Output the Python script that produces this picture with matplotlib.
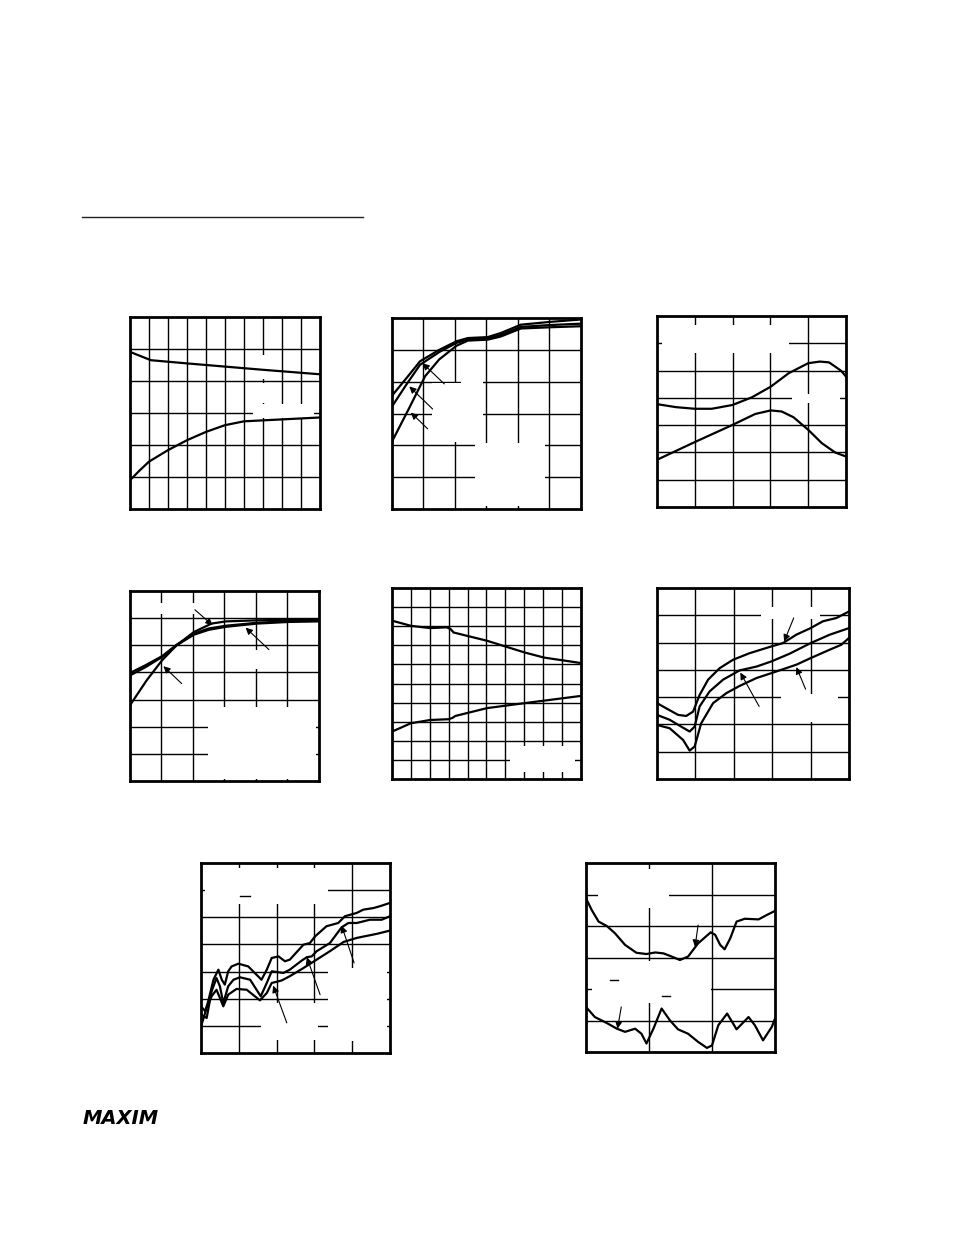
import numpy as np
import matplotlib
matplotlib.use("Agg")
import matplotlib.pyplot as plt
from matplotlib.patches import Rectangle

# ---- curve data (axis units = grid divisions) ----
# plot 1
p1_up_x = [0, 1.1, 3, 5, 7, 10]
p1_up_y = [4.91, 4.65, 4.55, 4.45, 4.35, 4.21]
p1_lo_x = [0, 0.5, 1, 2, 3, 4, 5, 6, 8, 10]
p1_lo_y = [0.9, 1.2, 1.48, 1.84, 2.15, 2.41, 2.62, 2.74, 2.8, 2.86]

# plot 2
p2_a_x = [0, 0.45, 0.89, 1.5, 2.05, 2.41, 3.04, 3.46, 4.09, 5.04, 5.96]
p2_a_y = [3.56, 4.1, 4.64, 5.0, 5.27, 5.37, 5.40, 5.53, 5.79, 5.88, 5.95]
p2_b_x = [0, 0.45, 0.89, 1.5, 2.05, 2.41, 3.04, 3.46, 4.09, 5.04, 5.96]
p2_b_y = [3.22, 3.9, 4.53, 4.93, 5.22, 5.32, 5.35, 5.47, 5.72, 5.78, 5.82]
p2_c_x = [0, 0.52, 1.05, 1.5, 2.05, 2.41, 3.04, 3.46, 4.09, 5.04, 5.96]
p2_c_y = [2.12, 3.12, 4.17, 4.7, 5.13, 5.29, 5.32, 5.42, 5.67, 5.71, 5.74]
p2_arrows = [((1.66, 3.93), (0.97, 4.58)), ((1.29, 3.14), (0.55, 3.85)),
             ((1.13, 2.52), (0.6, 3.03))]

# plot 3
p3_up_x = [0, 0.5, 1, 1.45, 2, 2.51, 3.01, 3.48, 4.0, 4.31, 4.55, 4.71, 4.88, 5]
p3_up_y = [3.77, 3.66, 3.6, 3.6, 3.74, 4.02, 4.41, 4.9, 5.27, 5.33, 5.3, 5.15, 4.98, 4.78]
p3_lo_x = [0, 1, 2, 2.6, 3.01, 3.3, 3.61, 4.0, 4.36, 4.71, 5]
p3_lo_y = [1.73, 2.38, 3.01, 3.41, 3.54, 3.5, 3.29, 2.83, 2.34, 2.0, 1.85]

# plot 4
p4_a_x = [0, 0.53, 1.02, 1.48, 2.03, 2.59, 3.04, 4.04, 6]
p4_a_y = [2.79, 3.71, 4.45, 5.0, 5.49, 5.8, 5.88, 5.92, 5.96]
p4_b_x = [0, 0.5, 1.02, 1.48, 2.03, 2.5, 3.04, 4.04, 5.04, 6]
p4_b_y = [3.89, 4.2, 4.57, 5.0, 5.39, 5.57, 5.68, 5.8, 5.86, 5.88]
p4_c_x = [0, 0.5, 1.02, 1.48, 2.03, 2.5, 3.04, 4.04, 5.04, 6]
p4_c_y = [3.98, 4.27, 4.6, 5.02, 5.43, 5.62, 5.72, 5.83, 5.89, 5.92]
p4_arrows = [((2.06, 6.31), (2.62, 5.74)), ((4.41, 4.84), (3.67, 5.65)),
             ((1.64, 3.59), (1.06, 4.23))]

# plot 5
p5_up_x = [0, 1, 2.02, 2.9, 3.1, 3.26, 5.02, 7.0, 8.03, 10]
p5_up_y = [8.29, 8.02, 7.9, 7.94, 7.85, 7.67, 7.24, 6.63, 6.36, 6.07]
p5_lo_x = [0, 1, 2.02, 2.99, 3.2, 3.35, 5.02, 7.0, 10]
p5_lo_y = [2.48, 2.92, 3.09, 3.13, 3.2, 3.3, 3.71, 3.97, 4.35]

# plot 6
p6_a_x = [0, 0.24, 0.55, 0.76, 0.94, 1.11, 1.33, 1.63, 1.98, 2.41, 2.98, 3.28, 3.63, 4.0, 4.32, 4.67, 5]
p6_a_y = [2.78, 2.59, 2.35, 2.31, 2.47, 3.08, 3.64, 4.06, 4.37, 4.61, 4.86, 4.98, 5.29, 5.53, 5.78, 5.9, 6.14]
p6_b_x = [0, 0.33, 0.63, 0.85, 0.98, 1.11, 1.37, 1.72, 2.15, 2.59, 2.98, 3.45, 4.0, 4.5, 5]
p6_b_y = [2.35, 2.17, 1.92, 1.74, 1.92, 2.66, 3.21, 3.64, 3.98, 4.12, 4.31, 4.59, 4.98, 5.29, 5.53]
p6_c_x = [0, 0.33, 0.68, 0.85, 0.98, 1.15, 1.46, 1.81, 2.15, 2.59, 2.98, 3.63, 4.0, 4.5, 4.8, 5]
p6_c_y = [1.98, 1.86, 1.43, 1.04, 1.19, 2.04, 2.78, 3.15, 3.41, 3.7, 3.88, 4.19, 4.43, 4.74, 4.92, 5.17]
p6_arrows = [((3.56, 5.9), (3.31, 5.04)), ((2.66, 2.66), (2.17, 3.9)),
             ((3.87, 3.29), (3.63, 4.1))]

# plot 7
p7_a_x = [0, 0.11, 0.19, 0.33, 0.46, 0.55, 0.63, 0.72, 0.81, 0.99, 1.25, 1.6, 1.74, 1.87,
          2.05, 2.22, 2.35, 2.71, 2.88, 3.02, 3.32, 3.63, 3.81, 4.12, 4.29, 4.56, 4.74, 5]
p7_a_y = [1.72, 1.54, 1.9, 2.7, 3.07, 2.7, 2.52, 3.01, 3.19, 3.29, 3.19, 2.7, 3.07, 3.5,
          3.56, 3.38, 3.44, 3.99, 4.05, 4.3, 4.67, 4.79, 5.04, 5.16, 5.28, 5.34, 5.41, 5.53]
p7_b_x = [0, 0.15, 0.28, 0.41, 0.5, 0.59, 0.72, 0.86, 1.03, 1.3, 1.58, 1.74, 1.87, 2.18,
          2.35, 2.66, 2.8, 2.93, 3.06, 3.41, 3.72, 3.9, 4.12, 4.47, 4.78, 5]
p7_b_y = [1.41, 1.29, 2.27, 2.76, 2.46, 1.84, 2.46, 2.7, 2.79, 2.7, 2.09, 2.58, 3.01, 2.95,
          3.07, 3.4, 3.53, 3.56, 3.75, 4.05, 4.63, 4.79, 4.79, 4.91, 4.91, 5.04]
p7_c_x = [0, 0.15, 0.28, 0.41, 0.5, 0.59, 0.72, 0.94, 1.21, 1.56, 1.74, 1.87, 2.13, 2.35,
          2.71, 3.06, 3.41, 3.77, 4.12, 4.65, 5]
p7_c_y = [0.98, 1.66, 2.09, 2.33, 2.03, 1.72, 2.15, 2.36, 2.33, 1.94, 2.21, 2.58, 2.67, 2.83,
          3.13, 3.44, 3.75, 4.09, 4.24, 4.39, 4.51]
p7_arrows = [((2.27, 1.11), (1.91, 2.48)), ((3.15, 2.15), (2.8, 3.53)),
             ((4.05, 3.32), (3.72, 4.69))]

# plot 8
p8_up_x = [0, 0.09, 0.2, 0.33, 0.46, 0.62, 0.8, 0.96, 1.1, 1.23, 1.36, 1.49, 1.62, 1.78,
           1.98, 2.05, 2.13, 2.2, 2.29, 2.39, 2.52, 2.74, 2.87, 3]
p8_up_y = [4.88, 4.51, 4.14, 4.0, 3.77, 3.4, 3.15, 3.11, 3.16, 3.13, 3.03, 2.92, 3.03, 3.45,
           3.8, 3.72, 3.4, 3.26, 3.61, 4.14, 4.23, 4.21, 4.35, 4.48]
p8_lo_x = [0, 0.14, 0.33, 0.49, 0.62, 0.78, 0.88, 0.96, 1.07, 1.2, 1.33, 1.46, 1.62, 1.78,
           1.92, 2.0, 2.1, 2.24, 2.39, 2.58, 2.68, 2.81, 2.95, 3]
p8_lo_y = [1.43, 1.11, 0.92, 0.74, 0.64, 0.74, 0.58, 0.27, 0.74, 1.38, 1.01, 0.72, 0.58, 0.32,
           0.13, 0.21, 0.85, 1.22, 0.72, 1.11, 0.85, 0.37, 0.8, 1.06]
p8_arrows = [((1.78, 4.03), (1.73, 3.34)), ((0.56, 1.43), (0.5, 0.74))]

W, H = 954, 1235
fig = plt.figure(figsize=(W / 100, H / 100), dpi=100)


def panel(box, nx, ny, curves, blanks=(), arrows=(), dashes=()):
    l, t, r, b = box
    ax = fig.add_axes([l / W, 1 - b / H, (r - l) / W, (b - t) / H])
    ax.set_xlim(0, nx)
    ax.set_ylim(0, ny)
    for i in range(1, nx):
        ax.axvline(i, color="black", lw=1.0, zorder=1)
    for j in range(1, ny):
        ax.axhline(j, color="black", lw=1.0, zorder=1)
    # white patches where the labels used to sit
    for (x0, x1, y0, y1) in blanks:
        ax.add_patch(Rectangle((x0, y0), x1 - x0, y1 - y0, color="white", lw=0, zorder=2))
    for (x0, x1, y) in dashes:
        ax.plot([x0, x1], [y, y], color="black", lw=1.0, zorder=2.5)
    for cx, cy in curves:
        ax.plot(cx, cy, color="black", lw=1.6, zorder=3, solid_joinstyle="round")
    for tail, head in arrows:
        ax.annotate("", xy=head, xytext=tail, zorder=4,
                    arrowprops=dict(arrowstyle="-|>", color="black", lw=0.8,
                                    mutation_scale=10, shrinkA=0, shrinkB=0))
    ax.set_xticks([])
    ax.set_yticks([])
    for s in ax.spines.values():
        s.set_linewidth(2.0)
        s.set_zorder(5)
    return ax


panel((130, 317, 320, 509), 10, 6,
      [(p1_up_x, p1_up_y), (p1_lo_x, p1_lo_y)],
      blanks=[(6.5, 9.7, 2.85, 3.28), (6.85, 7.15, 3.3, 3.95), (6.85, 7.15, 4.05, 4.8)])

panel((392, 318, 581, 509), 6, 6,
      [(p2_a_x, p2_a_y), (p2_b_x, p2_b_y), (p2_c_x, p2_c_y)],
      blanks=[(2.63, 4.86, 0.09, 2.07), (1.27, 2.89, 2.1, 3.95), (2.2, 2.89, 3.95, 4.2)],
      arrows=p2_arrows)

panel((657, 316, 846, 507), 5, 7,
      [(p3_up_x, p3_up_y), (p3_lo_x, p3_lo_y)],
      blanks=[(0.13, 3.48, 5.63, 6.67), (3.57, 4.84, 3.8, 4.15)])

panel((130, 591, 319, 781), 6, 7,
      [(p4_a_x, p4_a_y), (p4_b_x, p4_b_y), (p4_c_x, p4_c_y)],
      blanks=[(2.48, 5.91, 0.09, 2.73), (0.32, 2.32, 6.17, 6.54), (3.85, 4.2, 4.14, 4.82)],
      arrows=p4_arrows)

panel((392, 588, 581, 779), 10, 10,
      [(p5_up_x, p5_up_y), (p5_lo_x, p5_lo_y)],
      blanks=[(6.25, 9.68, 0.38, 1.75)])

panel((657, 588, 849, 779), 5, 7,
      [(p6_a_x, p6_a_y), (p6_b_x, p6_b_y), (p6_c_x, p6_c_y)],
      blanks=[(2.72, 4.24, 5.85, 6.3), (3.24, 4.71, 2.1, 3.1)],
      arrows=p6_arrows)

panel((201, 863, 390, 1053), 5, 7,
      [(p7_a_x, p7_a_y), (p7_b_x, p7_b_y), (p7_c_x, p7_c_y)],
      blanks=[(0.11, 3.37, 5.5, 6.82), (1.6, 3.1, 0.49, 1.84), (3.37, 4.91, 0.45, 3.15)],
      arrows=p7_arrows, dashes=[(1.03, 1.29, 5.79)])

panel((586, 863, 775, 1052), 3, 6,
      [(p8_up_x, p8_up_y), (p8_lo_x, p8_lo_y)],
      blanks=[(0.19, 1.31, 4.56, 5.82), (0.09, 1.99, 1.54, 2.89)],
      arrows=p8_arrows, dashes=[(0.38, 0.51, 2.28), (1.2, 1.33, 1.77)])

# header rule
fig.add_artist(plt.Line2D([82 / W, 363 / W], [1 - 217 / H, 1 - 217 / H],
                          color="#222222", lw=1.0))

# logo
fig.text(83 / W, 1 - 1118 / H, "MAXIM", fontsize=14, fontweight="heavy",
         fontstyle="italic", family="DejaVu Sans", va="center", ha="left")

fig.savefig("out.png", dpi=100, facecolor="white")
